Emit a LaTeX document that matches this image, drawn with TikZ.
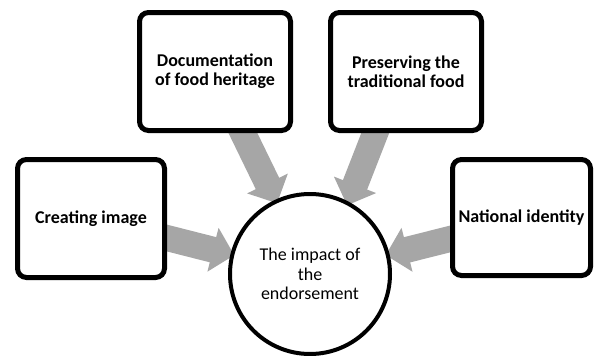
\documentclass[tikz,border=0pt]{standalone}
\usepackage{fontspec}
\setmainfont{Carlito}
\usetikzlibrary{arrows.meta,backgrounds}
\definecolor{arrowgray}{RGB}{166,166,166}
\tikzset{
	box/.style={draw, line width=5pt, rounded corners=9pt, fill=white, align=center, inner sep=1pt, minimum height=118pt, font=\bfseries\fontsize{18}{19}\selectfont},
	hub/.style={draw, circle, line width=4pt, fill=white, minimum size=160pt, inner sep=0pt, align=center, font=\fontsize{18}{19.5}\selectfont},
	fat/.style={line width=26pt, arrowgray, -{Triangle[width=44pt,length=22pt]}, shorten >=-4pt}
}

\begin{document}
\begin{tikzpicture}[x=1pt,y=-1pt]
\useasboundingbox (0,0) rectangle (595,356);
\node[hub] (impact) at (310,274) {The impact of\\the\\endorsement};
\node[box, minimum width=151pt] (doc) at (215,71.5) {Documentation\\of food heritage};
\node[box, minimum width=151pt] (pres) at (406,71.5) {Preserving the\\traditional food};
\node[box, minimum width=147pt] (image) at (91,218.5) {Creating image};
\node[box, minimum width=138pt, minimum height=116pt] (nation) at (521.5,217.5) {National identity};
\begin{pgfonlayer}{background}
\draw[fat] ([xshift=24pt,yshift=8pt]doc.south) -- (impact.115);
\draw[fat] ([xshift=-28pt,yshift=7pt]pres.south) -- (impact.62);
\draw[fat] ([xshift=-8pt,yshift=-17.5pt]image.east) -- (impact.166);
\draw[fat] ([xshift=8pt,yshift=-19.5pt]nation.west) -- (impact.14);
\end{pgfonlayer}
\end{tikzpicture}
\end{document}
